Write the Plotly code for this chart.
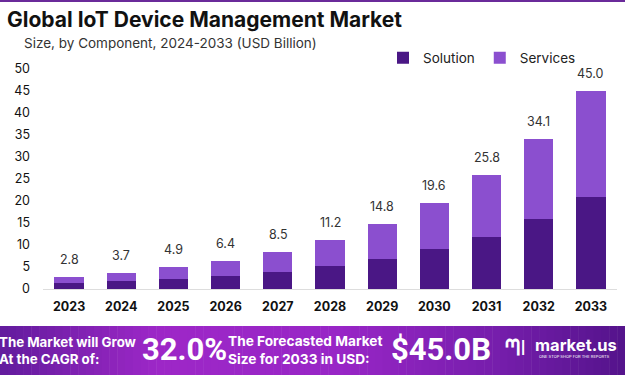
import plotly.graph_objects as go

years = ["2023", "2024", "2025", "2026", "2027", "2028", "2029", "2030", "2031", "2032", "2033"]
totals = [2.8, 3.7, 4.9, 6.4, 8.5, 11.2, 14.8, 19.6, 25.8, 34.1, 45.0]
solution = [1.3, 1.8, 2.2, 3.0, 3.9, 5.2, 6.8, 9.1, 11.9, 15.8, 21.0]
services = [round(t - s, 1) for t, s in zip(totals, solution)]
y_ticks = [0, 5, 10, 15, 20, 25, 30, 35, 40, 45, 50]

SOL_COLOR = "#4a1785"
SER_COLOR = "#8b4fcf"
FONT = "Inter"
NUMFONT = "Roboto"

fig = go.Figure()
fig.add_trace(go.Bar(x=years, y=solution, name="Solution", marker_color=SOL_COLOR,
                     marker_line_width=0))
fig.add_trace(go.Bar(x=years, y=services, name="Services", marker_color=SER_COLOR,
                     marker_line_width=0))

W, H = 625, 375
ml, mr, mt, mb = 43, 8, 40, 86
ph = H - mt - mb
pw = W - ml - mr
ytop = (H - mb - mt) / 4.4  # keep 4.4 px per unit

def py(p):
    return (H - mb - p) / ph

def px(p):
    return (p - ml) / pw

shapes = []
stops = [(0, (100, 28, 158)), (0.25, (158, 40, 200)), (0.55, (152, 38, 198)), (0.8, (118, 30, 172)), (1.0, (85, 20, 140))]
def col(t):
    for i in range(len(stops) - 1):
        a, ca = stops[i]
        b, cb = stops[i + 1]
        if a <= t <= b:
            f = (t - a) / (b - a)
            c = [int(ca[k] + (cb[k] - ca[k]) * f) for k in range(3)]
            return f"rgb({c[0]},{c[1]},{c[2]})"
    return "rgb(85,20,140)"
N = 80
for i in range(N):
    x0 = i * W / N
    x1 = (i + 1) * W / N + 0.5
    shapes.append(dict(type="rect", xref="paper", yref="paper",
                       x0=px(x0), x1=px(x1), y0=py(376), y1=py(326),
                       fillcolor=col(i / (N - 1)), line_width=0, layer="below"))
shapes.append(dict(type="rect", xref="paper", yref="paper", x0=px(0), x1=px(625),
                   y0=py(2), y1=py(0), fillcolor="#6a2a9a", line_width=0))

ann = []
for i, t in enumerate(totals):
    ann.append(dict(x=i, y=t, xref="x", yref="y", text=f"{t:.1f}", showarrow=False,
                    yanchor="bottom", yshift=8,
                    font=dict(size=12.5, color="#333333", family=FONT)))
ann.append(dict(text="<b>Global IoT Device Management Market</b>", x=px(5), y=py(20),
                xref="paper", yref="paper", xanchor="left", yanchor="middle", showarrow=False,
                font=dict(size=21, color="#111111", family=FONT)))
ann.append(dict(text="Size, by Component, 2024-2033 (USD Billion)", x=px(22), y=py(43),
                xref="paper", yref="paper", xanchor="left", yanchor="middle", showarrow=False,
                font=dict(size=13.5, color="#333333", family=FONT)))
ann.append(dict(text="<b>The Market will Grow<br>At the CAGR of:</b>", x=px(-3), y=py(350),
                xref="paper", yref="paper", xanchor="left", yanchor="middle", align="left",
                showarrow=False, font=dict(size=13.3, color="white", family=FONT)))
ann.append(dict(text="<b>32.0%</b>", x=px(140), y=py(349), xref="paper", yref="paper",
                xanchor="left", yanchor="middle", showarrow=False,
                font=dict(size=31, color="white", family=NUMFONT)))
ann.append(dict(text="<b>The Forecasted Market<br>Size for 2033 in USD:</b>", x=px(226), y=py(350),
                xref="paper", yref="paper", xanchor="left", yanchor="middle", align="left",
                showarrow=False, font=dict(size=13.7, color="white", family=FONT)))
ann.append(dict(text="<b>$45.0B</b>", x=px(389), y=py(349), xref="paper", yref="paper",
                xanchor="left", yanchor="middle", showarrow=False,
                font=dict(size=31, color="white", family=NUMFONT)))
ann.append(dict(text="<b>ᘉǀ</b>", x=px(503), y=py(347), xref="paper", yref="paper",
                xanchor="left", yanchor="middle", showarrow=False,
                font=dict(size=21, color="white", family=FONT)))
ann.append(dict(text="<b>market.us</b>", x=px(533), y=py(345), xref="paper", yref="paper",
                xanchor="left", yanchor="middle", showarrow=False,
                font=dict(size=16.5, color="white", family=FONT)))
ann.append(dict(text="ONE STOP SHOP FOR THE REPORTS", x=px(537), y=py(356), xref="paper", yref="paper",
                xanchor="left", yanchor="middle", showarrow=False,
                font=dict(size=4, color="white", family=FONT)))

fig.update_layout(
    barmode="stack",
    bargap=0.44,
    width=W, height=H,
    margin=dict(l=ml, r=mr, t=mt, b=mb, autoexpand=False),
    paper_bgcolor="white", plot_bgcolor="white",
    font=dict(family=FONT),
    showlegend=True,
    legend=dict(orientation="h", x=px(383), y=py(58), xref="paper", yref="paper",
                xanchor="left", yanchor="middle", font=dict(size=13.5, color="#222222", family=FONT),
                itemwidth=30, traceorder="normal", bgcolor="rgba(0,0,0,0)"),
    shapes=shapes,
    annotations=ann,
    xaxis=dict(type="category", range=[-0.5, len(years) - 0.5], showgrid=False, showline=True,
               linecolor="#dddddd", linewidth=1,
               tickfont=dict(size=12.5, color="#111111", family=FONT), ticks="",
               ticklabelstandoff=6, tickprefix="<b>", ticksuffix="</b>", automargin=False),
    yaxis=dict(range=[0, ytop], tickvals=y_ticks, showgrid=False, zeroline=False,
               showline=False, tickfont=dict(size=12.5, color="#111111", family=FONT),
               tickprefix="<b>", ticksuffix="</b>", ticklabelstandoff=12, automargin=False),
)

fig.write_html("out.html", config={"displayModeBar": False},
               post_script="document.body.style.margin='0px';")
